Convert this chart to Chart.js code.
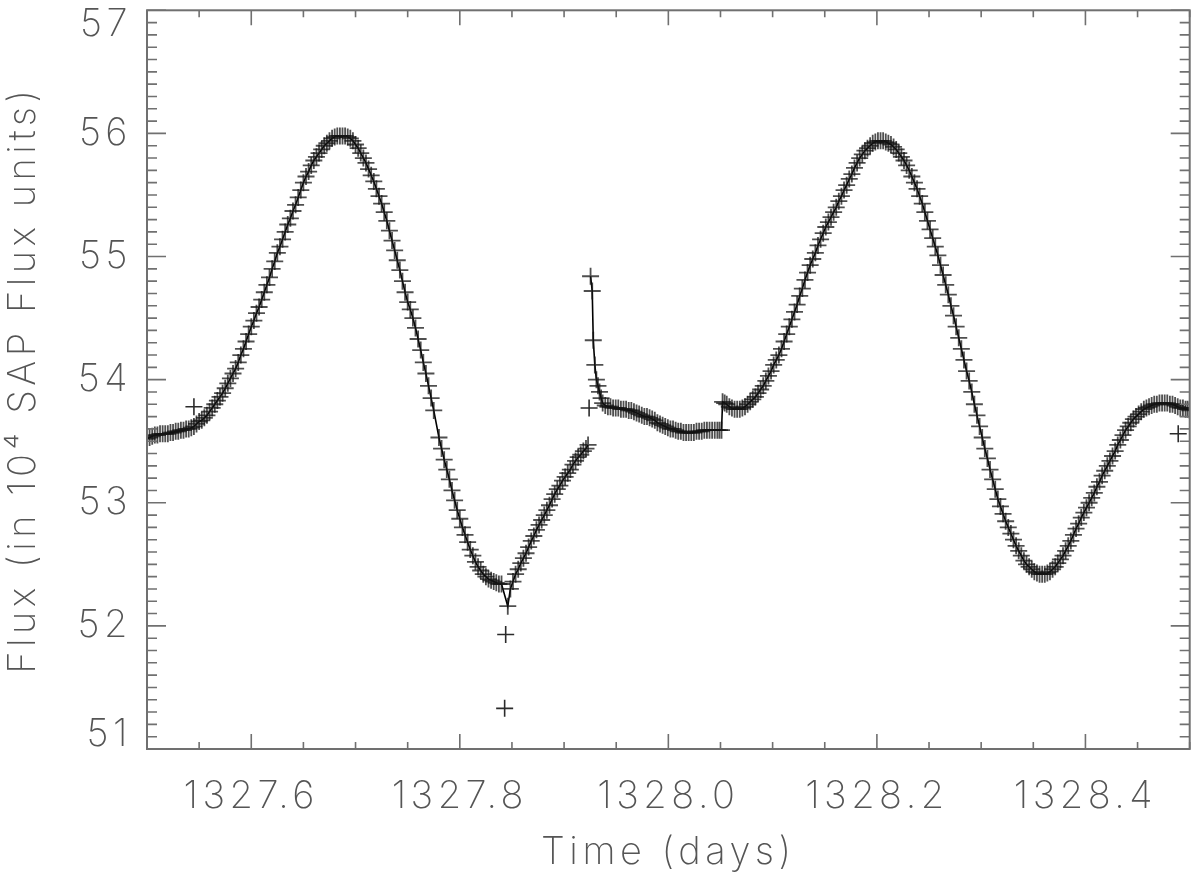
<!DOCTYPE html>
<html>
<head>
<meta charset="utf-8">
<script src="https://cdn.jsdelivr.net/npm/chart.js@4/dist/chart.umd.min.js"></script>
<style>
  html, body { margin: 0; padding: 0; background: #fff; }
  #holder { width: 1200px; height: 881px; position: relative; }
</style>
</head>
<body>
<div id="holder"><canvas id="chart-area"></canvas></div>
<script>
// time of each cadence (days) and the SAP flux (10^4 units)
var timeDays = [
    1327.5000, 1327.5025, 1327.5050, 1327.5075, 1327.5100, 1327.5125, 1327.5150, 1327.5175, 1327.5200, 1327.5225,
    1327.5250, 1327.5275, 1327.5300, 1327.5325, 1327.5350, 1327.5375, 1327.5400, 1327.5425, 1327.5450, 1327.5475,
    1327.5500, 1327.5525, 1327.5550, 1327.5575, 1327.5600, 1327.5625, 1327.5650, 1327.5675, 1327.5700, 1327.5725,
    1327.5750, 1327.5775, 1327.5800, 1327.5825, 1327.5850, 1327.5875, 1327.5900, 1327.5925, 1327.5950, 1327.5975,
    1327.6000, 1327.6025, 1327.6050, 1327.6075, 1327.6100, 1327.6125, 1327.6150, 1327.6175, 1327.6200, 1327.6225,
    1327.6250, 1327.6275, 1327.6300, 1327.6325, 1327.6350, 1327.6375, 1327.6400, 1327.6425, 1327.6450, 1327.6475,
    1327.6500, 1327.6525, 1327.6550, 1327.6575, 1327.6600, 1327.6625, 1327.6650, 1327.6675, 1327.6700, 1327.6725,
    1327.6750, 1327.6775, 1327.6800, 1327.6825, 1327.6850, 1327.6875, 1327.6900, 1327.6925, 1327.6950, 1327.6975,
    1327.7000, 1327.7025, 1327.7050, 1327.7075, 1327.7100, 1327.7125, 1327.7150, 1327.7175, 1327.7200, 1327.7225,
    1327.7250, 1327.7275, 1327.7300, 1327.7325, 1327.7350, 1327.7375, 1327.7400, 1327.7425, 1327.7450, 1327.7475,
    1327.7500, 1327.7525, 1327.7550, 1327.7575, 1327.7600, 1327.7625, 1327.7650, 1327.7675, 1327.7700, 1327.7725,
    1327.7750, 1327.7800, 1327.7825, 1327.7850, 1327.7875, 1327.7900, 1327.7925, 1327.7950, 1327.7975, 1327.8000,
    1327.8025, 1327.8050, 1327.8075, 1327.8100, 1327.8125, 1327.8150, 1327.8175, 1327.8200, 1327.8225, 1327.8250,
    1327.8275, 1327.8300, 1327.8325, 1327.8350, 1327.8375, 1327.8400,
    1327.8460, 1327.8485, 1327.8510, 1327.8535, 1327.8560, 1327.8585, 1327.8610, 1327.8635, 1327.8660, 1327.8685,
    1327.8710, 1327.8735, 1327.8760, 1327.8785, 1327.8810, 1327.8835, 1327.8860, 1327.8885, 1327.8910, 1327.8935,
    1327.8960, 1327.8985, 1327.9010, 1327.9035, 1327.9060, 1327.9085, 1327.9110, 1327.9135, 1327.9160, 1327.9185,
    1327.9210, 1327.9230,
    1327.9254, 1327.9270, 1327.9280, 1327.9295, 1327.9310, 1327.9325, 1327.9340, 1327.9355, 1327.9370, 1327.9395,
    1327.9420, 1327.9445, 1327.9470, 1327.9495, 1327.9520, 1327.9545, 1327.9570, 1327.9595, 1327.9620, 1327.9645,
    1327.9670, 1327.9695, 1327.9720, 1327.9745, 1327.9770, 1327.9795, 1327.9820, 1327.9845, 1327.9870, 1327.9895,
    1327.9920, 1327.9945, 1327.9970, 1327.9995, 1328.0020, 1328.0045, 1328.0070, 1328.0095, 1328.0120, 1328.0145,
    1328.0170, 1328.0195, 1328.0220, 1328.0245, 1328.0270, 1328.0295, 1328.0320, 1328.0345, 1328.0370, 1328.0395,
    1328.0420, 1328.0445, 1328.0470, 1328.0490, 1328.0510,
    1328.0520, 1328.0540, 1328.0560, 1328.0585, 1328.0610, 1328.0635, 1328.0660, 1328.0685, 1328.0710, 1328.0735,
    1328.0760, 1328.0785, 1328.0810, 1328.0835, 1328.0860, 1328.0885, 1328.0910, 1328.0935, 1328.0960, 1328.0985,
    1328.1010, 1328.1035, 1328.1060, 1328.1085, 1328.1110, 1328.1135, 1328.1160, 1328.1185, 1328.1210, 1328.1235,
    1328.1260, 1328.1285, 1328.1310, 1328.1335, 1328.1360, 1328.1385, 1328.1410, 1328.1435, 1328.1460, 1328.1485,
    1328.1510, 1328.1535, 1328.1560, 1328.1585, 1328.1610, 1328.1635, 1328.1660, 1328.1685, 1328.1710, 1328.1735,
    1328.1760, 1328.1785, 1328.1810, 1328.1835, 1328.1860, 1328.1885, 1328.1910, 1328.1935, 1328.1960, 1328.1985,
    1328.2010, 1328.2035, 1328.2060, 1328.2085, 1328.2110, 1328.2135, 1328.2160, 1328.2185, 1328.2210, 1328.2235,
    1328.2260, 1328.2285, 1328.2310, 1328.2335, 1328.2360, 1328.2385, 1328.2410, 1328.2435, 1328.2460, 1328.2485,
    1328.2510, 1328.2535, 1328.2560, 1328.2585, 1328.2610, 1328.2635, 1328.2660, 1328.2685, 1328.2710, 1328.2735,
    1328.2760, 1328.2785, 1328.2810, 1328.2835, 1328.2860, 1328.2885, 1328.2910, 1328.2935, 1328.2960, 1328.2985,
    1328.3010, 1328.3035, 1328.3060, 1328.3085, 1328.3110, 1328.3135, 1328.3160, 1328.3185, 1328.3210, 1328.3235,
    1328.3260, 1328.3285, 1328.3310, 1328.3335, 1328.3360, 1328.3385, 1328.3410, 1328.3435, 1328.3460, 1328.3485,
    1328.3510, 1328.3535, 1328.3560, 1328.3585, 1328.3610, 1328.3635, 1328.3660, 1328.3685, 1328.3710, 1328.3735,
    1328.3760, 1328.3785, 1328.3810, 1328.3835, 1328.3860, 1328.3885, 1328.3910, 1328.3935, 1328.3960, 1328.3985,
    1328.4010, 1328.4035, 1328.4060, 1328.4085, 1328.4110, 1328.4135, 1328.4160, 1328.4185, 1328.4210, 1328.4235,
    1328.4260, 1328.4285, 1328.4310, 1328.4335, 1328.4360, 1328.4385, 1328.4410, 1328.4435, 1328.4460, 1328.4485,
    1328.4510, 1328.4535, 1328.4560, 1328.4585, 1328.4610, 1328.4635, 1328.4660, 1328.4685, 1328.4710, 1328.4735,
    1328.4760, 1328.4785, 1328.4810, 1328.4835, 1328.4860, 1328.4885, 1328.4910, 1328.4935, 1328.4960, 1328.4980,
    1328.5000
];
var fluxSap = [
    53.52, 53.53, 53.54, 53.55, 53.55, 53.56, 53.56, 53.56, 53.56, 53.57,
    53.57, 53.58, 53.58, 53.59, 53.59, 53.60, 53.60, 53.61, 53.62, 53.64,
    53.66, 53.67, 53.69, 53.71, 53.74, 53.77, 53.80, 53.83, 53.86, 53.89,
    53.93, 53.97, 54.01, 54.05, 54.09, 54.14, 54.20, 54.25, 54.31, 54.37,
    54.43, 54.48, 54.54, 54.59, 54.65, 54.71, 54.77, 54.83, 54.90, 54.96,
    55.03, 55.08, 55.14, 55.20, 55.26, 55.31, 55.37, 55.42, 55.48, 55.54,
    55.60, 55.65, 55.69, 55.74, 55.78, 55.81, 55.84, 55.87, 55.90, 55.92,
    55.94, 55.96, 55.97, 55.98, 55.98, 55.98, 55.98, 55.97, 55.96, 55.94,
    55.91, 55.88, 55.84, 55.80, 55.76, 55.71, 55.66, 55.61, 55.55, 55.49,
    55.43, 55.36, 55.29, 55.21, 55.13, 55.05, 54.97, 54.89, 54.80, 54.71,
    54.63, 54.57, 54.50, 54.42, 54.33, 54.24, 54.14, 54.05, 53.95, 53.85,
    53.75, 53.53, 53.44, 53.35, 53.27, 53.19, 53.10, 53.02, 52.94, 52.87,
    52.80, 52.74, 52.68, 52.62, 52.57, 52.52, 52.48, 52.45, 52.42, 52.40,
    52.38, 52.37, 52.36, 52.35, 52.34, 52.34,
    52.16, 52.30, 52.36, 52.42, 52.46, 52.51, 52.55, 52.59, 52.64, 52.69,
    52.73, 52.78, 52.82, 52.86, 52.90, 52.94, 52.98, 53.03, 53.07, 53.11,
    53.14, 53.18, 53.21, 53.24, 53.27, 53.31, 53.34, 53.37, 53.39, 53.42,
    53.44, 53.47,
    54.84, 54.72, 54.32, 54.12, 54.00, 53.95, 53.90, 53.85, 53.81, 53.79,
    53.78, 53.78, 53.77, 53.77, 53.77, 53.76, 53.76, 53.76, 53.75, 53.75,
    53.74, 53.73, 53.72, 53.71, 53.70, 53.70, 53.69, 53.68, 53.67, 53.65,
    53.64, 53.63, 53.62, 53.61, 53.60, 53.60, 53.59, 53.58, 53.58, 53.57,
    53.57, 53.57, 53.57, 53.57, 53.58, 53.58, 53.58, 53.59, 53.59, 53.59,
    53.59, 53.59, 53.59, 53.59, 53.59,
    53.82, 53.81, 53.80, 53.78, 53.77, 53.76, 53.76, 53.76, 53.77, 53.78,
    53.80, 53.82, 53.84, 53.86, 53.89, 53.92, 53.95, 53.99, 54.03, 54.07,
    54.12, 54.16, 54.20, 54.25, 54.31, 54.37, 54.43, 54.49, 54.55, 54.61,
    54.68, 54.74, 54.81, 54.87, 54.93, 54.98, 55.03, 55.09, 55.14, 55.19,
    55.24, 55.28, 55.32, 55.36, 55.40, 55.45, 55.49, 55.54, 55.58, 55.63,
    55.67, 55.72, 55.76, 55.80, 55.83, 55.86, 55.88, 55.90, 55.92, 55.93,
    55.94, 55.94, 55.94, 55.93, 55.92, 55.91, 55.89, 55.87, 55.84, 55.81,
    55.78, 55.74, 55.70, 55.65, 55.60, 55.55, 55.49, 55.43, 55.36, 55.29,
    55.22, 55.15, 55.08, 55.01, 54.93, 54.85, 54.77, 54.69, 54.60, 54.52,
    54.43, 54.34, 54.25, 54.16, 54.07, 53.99, 53.90, 53.80, 53.71, 53.62,
    53.53, 53.44, 53.36, 53.27, 53.19, 53.11, 53.03, 52.97, 52.91, 52.85,
    52.80, 52.75, 52.70, 52.65, 52.61, 52.57, 52.53, 52.50, 52.48, 52.46,
    52.44, 52.43, 52.42, 52.42, 52.42, 52.43, 52.44, 52.46, 52.48, 52.51,
    52.54, 52.57, 52.61, 52.65, 52.69, 52.74, 52.79, 52.83, 52.88, 52.92,
    52.96, 53.00, 53.04, 53.08, 53.13, 53.17, 53.22, 53.26, 53.30, 53.34,
    53.38, 53.42, 53.47, 53.51, 53.55, 53.59, 53.62, 53.65, 53.68, 53.70,
    53.72, 53.74, 53.76, 53.77, 53.78, 53.79, 53.80, 53.80, 53.81, 53.81,
    53.81, 53.81, 53.80, 53.80, 53.79, 53.78, 53.77, 53.77, 53.76, 53.76,
    53.75
];
// isolated points that sit off the curve
var outlierTimes = [1327.545, 1327.843, 1327.844, 1327.924, 1328.489];
var outlierFlux = [53.78, 51.33, 51.93, 53.77, 53.56];
// the curve is not joined across this data gap
var gapAfter = 1327.923;

var xTickValues = [1327.6, 1327.8, 1328.0, 1328.2, 1328.4];
var yTickValues = [51, 52, 53, 54, 55, 56, 57];
var xMin = 1327.5, xMax = 1328.5, xMinorStep = 0.05, xMajorStep = 0.2;
var yMin = 51, yMax = 57, yMinorStep = 0.1, yMajorStep = 1;

var axisColor = '#707070';
var textColor = '#555555';
var fontFamily = 'Inter, "DejaVu Sans", sans-serif';
var fontWeight = 200;

var toPoints = function (xs, ys) {
    var pts = [];
    for (var i = 0; i < xs.length; i++) pts.push({x: xs[i], y: ys[i]});
    return pts;
};

// frame on all four sides with inward major/minor ticks (IDL style)
var idlFrame = {
    id: 'idlFrame',
    beforeDraw: function (chart) {
        chart.ctx.letterSpacing = '4.5px';
    },
    afterDatasetsDraw: function (chart) {
        var ctx = chart.ctx, a = chart.chartArea;
        var xs = chart.scales.x, ys = chart.scales.y;
        ctx.save();
        ctx.strokeStyle = axisColor;
        ctx.lineWidth = 1.6;
        ctx.beginPath();
        var n = Math.round((xMax - xMin) / xMinorStep);
        for (var i = 0; i <= n; i++) {
            var v = xMin + i * xMinorStep;
            var k = (v - xTickValues[0]) / xMajorStep;
            var len = Math.abs(k - Math.round(k)) < 1e-6 ? 15 : 7;
            var px = xs.getPixelForValue(v);
            ctx.moveTo(px, a.bottom); ctx.lineTo(px, a.bottom - len);
            ctx.moveTo(px, a.top); ctx.lineTo(px, a.top + len);
        }
        n = Math.round((yMax - yMin) / yMinorStep);
        for (var j = 0; j <= n; j++) {
            var w = yMin + j * yMinorStep;
            var m = (w - yTickValues[0]) / yMajorStep;
            var ln = Math.abs(m - Math.round(m)) < 1e-6 ? 19 : 10;
            var py = ys.getPixelForValue(w);
            ctx.moveTo(a.left, py); ctx.lineTo(a.left + ln, py);
            ctx.moveTo(a.right, py); ctx.lineTo(a.right - ln, py);
        }
        ctx.stroke();
        ctx.lineWidth = 2;
        ctx.strokeRect(a.left, a.top, a.right - a.left, a.bottom - a.top);
        ctx.restore();
    }
};

var config = {
    type: 'scatter',
    data: {
        datasets: [{
            label: 'SAP flux',
            data: toPoints(timeDays, fluxSap),
            showLine: true,
            borderColor: '#000',
            borderWidth: 1.6,
            pointStyle: 'cross',
            pointRadius: 8.5,
            pointBorderWidth: 1.8,
            pointBorderColor: 'rgba(20,20,20,0.75)',
            clip: 0,
            segment: {
                borderColor: function (c) {
                    return (c.p0.parsed.x <= gapAfter && c.p1.parsed.x > gapAfter) ? 'rgba(0,0,0,0)' : undefined;
                }
            }
        }, {
            label: 'outliers',
            data: toPoints(outlierTimes, outlierFlux),
            showLine: false,
            pointStyle: 'cross',
            pointRadius: 8.5,
            pointBorderWidth: 1.6,
            pointBorderColor: 'rgba(20,20,20,0.9)',
            clip: 0
        }]
    },
    options: {
        responsive: true,
        maintainAspectRatio: false,
        animation: false,
        layout: {padding: {top: 5, right: 9, left: 0, bottom: 0}},
        plugins: {legend: {display: false}, tooltip: {enabled: false}},
        scales: {
            x: {
                type: 'linear', min: xMin, max: xMax,
                grid: {display: false, drawTicks: false},
                border: {display: false},
                afterBuildTicks: function (s) {
                    s.ticks = xTickValues.map(function (v) { return {value: v}; });
                },
                afterFit: function (s) {
                    s.height = 132;
                    s.paddingLeft = 0; s.paddingRight = 0;
                },
                ticks: {
                    color: textColor, padding: 25, maxRotation: 0, autoSkip: false,
                    font: {family: fontFamily, size: 38, weight: fontWeight},
                    callback: function (v) { return Number(v).toFixed(1); }
                },
                title: {
                    display: true, text: 'Time (days)', color: textColor,
                    padding: {top: 0, bottom: 6},
                    font: {family: fontFamily, size: 38, weight: fontWeight}
                }
            },
            y: {
                type: 'linear', min: yMin, max: yMax,
                grid: {display: false, drawTicks: false},
                border: {display: false},
                afterBuildTicks: function (s) {
                    s.ticks = yTickValues.map(function (v) { return {value: v}; });
                },
                afterFit: function (s) {
                    s.width = 147;
                    s.paddingTop = 0; s.paddingBottom = 0;
                },
                ticks: {
                    color: textColor, padding: 15, autoSkip: false,
                    font: {family: fontFamily, size: 38, weight: fontWeight, lineHeight: 0.74},
                    // end labels sit just inside the frame
                    callback: function (v) {
                        if (v === yMax) return ['', String(v)];
                        if (v === yMin) return [String(v), ''];
                        return String(v);
                    }
                },
                title: {
                    display: true, text: 'Flux (in 10\u2074 SAP Flux units)', color: textColor,
                    padding: {top: 1, bottom: 0},
                    font: {family: fontFamily, size: 38, weight: fontWeight}
                }
            }
        }
    },
    plugins: [idlFrame]
};

var ctx = document.getElementById('chart-area').getContext('2d');
var myChart = new Chart(ctx, config);
</script>
</body>
</html>
